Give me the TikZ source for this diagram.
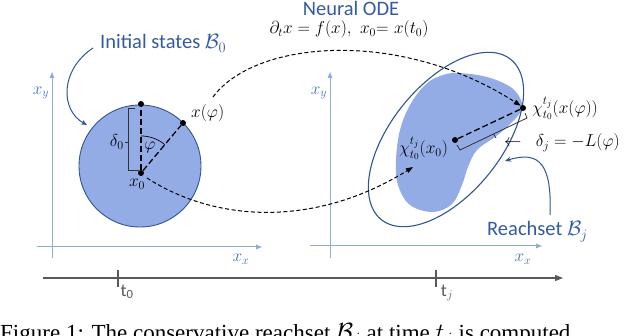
\documentclass[tikz,border=0pt]{standalone}
\usepackage[no-math]{fontspec}
\usepackage{amsmath}
\newfontfamily\calibri{Carlito}
\newfontfamily\timesfont{Liberation Serif}
\usetikzlibrary{arrows.meta,calc}
\definecolor{dblue}{RGB}{47,85,151}
\definecolor{tblue}{RGB}{52,90,165}
\definecolor{fillb}{RGB}{148,172,230}
\definecolor{axisb}{RGB}{143,170,220}
\definecolor{axlab}{RGB}{68,114,196}
\definecolor{tgray}{RGB}{89,89,89}
\begin{document}
\begin{tikzpicture}[x=1pt,y=-1pt,
  axis/.style={draw=axisb, line width=1pt, -{Triangle[length=6pt,width=4.5pt]}},
  axlabel/.style={text=axlab, font=\fontsize{18}{21}\selectfont, inner sep=0pt},
  mathlab/.style={font=\fontsize{18.5}{22}\selectfont, inner sep=0pt},
  bluelab/.style={text=tblue, font=\calibri\fontsize{20.5}{24}\selectfont, inner sep=0pt},
  graylab/.style={text=tgray, font=\calibri\fontsize{18}{21}\selectfont, inner sep=0pt},
  dot/.style={circle, fill=black, inner sep=0pt, minimum size=6pt},
  thickdash/.style={draw=black, line width=1.3pt, dash pattern=on 6pt off 3pt},
  flowdash/.style={draw=black, line width=1pt, dash pattern=on 4pt off 2.5pt, -{Triangle[length=7pt,width=5pt]}},
  bracketline/.style={draw=black!80, line width=0.8pt},
  callout/.style={draw=dblue, line width=1pt, -{Stealth[length=6pt,width=5pt]}},
  timeline/.style={draw=tgray, line width=1.2pt},
]
\useasboundingbox (0,0) rectangle (640,336);
\clip (0,0) rectangle (640,336);

% ---------- axes ----------
\coordinate (lyb) at (52,258);  \coordinate (lyt) at (52,72);
\coordinate (lxl) at (37,247);  \coordinate (lxr) at (262,247);
\coordinate (ryb) at (330,258); \coordinate (ryt) at (330,72);
\coordinate (rxl) at (310,246); \coordinate (rxr) at (542,246);
\draw[axis] (lyb) -- (lyt);
\draw[axis] (lxl) -- (lxr);
\draw[axis] (ryb) -- (ryt);
\draw[axis] (rxl) -- (rxr);
\node[axlabel] (lxy) at (41,93) {$x_y$};
\node[axlabel] (rxy) at (319,93) {$x_y$};
\node[axlabel] (lxx) at (241,259) {$x_x$};
\node[axlabel] (rxx) at (523,259) {$x_x$};

% ---------- time line ----------
\coordinate (tl) at (43,278); \coordinate (tr) at (563,278);
\draw[timeline, -{Triangle[length=8pt,width=6pt]}] (tl) -- (tr);
\coordinate (t0a) at (118,270); \coordinate (t0b) at (118,287);
\coordinate (tja) at (436,270); \coordinate (tjb) at (436,287);
\draw[timeline] (t0a) -- (t0b);
\draw[timeline] (tja) -- (tjb);
\node[graylab] (t0) at (127,292) {t\textsubscript{0}};
\node[graylab] (tj) at (447,293) {t$_j$};

% ---------- initial set ----------
\node[circle, draw=dblue, line width=0.9pt, fill=fillb, minimum size=122pt, inner sep=0pt] (B0) at (140,166) {};
\node[dot] (x0) at (141,173) {};
\node[dot] (top) at (141,104) {};
\node[dot] (xphi) at (183,123) {};
\draw[thickdash] (x0) -- (top);
\draw[thickdash] (x0) -- (xphi);
\draw[line width=0.7pt] plot[domain=50:90, samples=20] ({141+37*cos(\x)},{173-37*sin(\x)});
\node[mathlab] (phi) at (150,147) {$\varphi$};
\coordinate (b0a) at (135,108); \coordinate (b0b) at (128,108);
\coordinate (b0c) at (128,170); \coordinate (b0d) at (139,170);
\coordinate (b0m) at (128,142); \coordinate (b0n) at (124.5,142);
\draw[bracketline] (b0a) -- (b0b) -- (b0c) -- (b0d);
\draw[bracketline] (b0m) -- (b0n);
\node[mathlab, anchor=east] (d0) at (124,142) {$\delta_0$};
\node[mathlab, anchor=base west] (xphil) at (191,118) {$x(\varphi)$};
\node[mathlab] (x0l) at (137,184) {$x_0$};

% ---------- reach set ----------
\fill[fillb] plot[smooth cycle, tension=0.6] coordinates {
 (457,73) (487,77) (512,88) (522,103) (520,113) (507,127) (495,137)
 (477,150) (468,167) (462,185) (452,204) (433,212) (410,205) (398,185)
 (396,160) (400,130) (410,105) (425,85) (440,76)};
\draw[dblue, line width=1.1pt] plot[domain=0:360, samples=120, smooth]
 ({446 + 103*cos(\x)*cos(51) - 55*sin(\x)*sin(51)},
  {139.5 - (103*cos(\x)*sin(51) + 55*sin(\x)*cos(51))});

\node[dot] (cx0) at (455,140) {};
\node[dot] (cxphi) at (523,108) {};
\draw[thickdash] (cx0) -- (cxphi);
\coordinate (bja) at (457,145); \coordinate (bjb) at (460,150);
\coordinate (bjc) at (527,118); \coordinate (bjd) at (525,113);
\coordinate (bjm) at (493.5,134); \coordinate (bjn) at (496,138);
\draw[bracketline] (bja) -- (bjb) -- (bjc) -- (bjd);
\draw[bracketline] (bjm) -- (bjn);
\node[mathlab, anchor=base west] (cxphil) at (532,114) {$\chi_{t_0}^{t_j}(x(\varphi))$};
\node[mathlab, anchor=base west] (cx0l) at (399,154) {$\chi_{t_0}^{t_j}(x_0)$};
\node[mathlab, anchor=base west] (djl) at (504,147) {$\leftarrow\;\;\delta_j = -L(\varphi)$};

% ---------- flow arrows ----------
\coordinate (fa) at (213,97);
\draw[flowdash] (fa) .. controls (255,40) and (400,28) .. (cxphi.north west);
\coordinate (fb) at (147,178);
\coordinate (fbe) at (413,167);
\draw[flowdash] (fb) .. controls (220,225) and (320,225) .. (fbe);

% ---------- labels ----------
\node[bluelab, anchor=base] (ode) at (351,16) {Neural ODE};
\node[mathlab, anchor=base] (eq) at (349,34) {$\partial_t x = f(x),\ x_0{=}\ x(t_0)$};
\node[bluelab, anchor=base west] (init) at (100,49) {Initial states $\mathcal{B}_0$};
\node[bluelab, anchor=base west] (reach) at (487,236) {Reachset $\mathcal{B}_j$};
\coordinate (ia) at (93,48); \coordinate (ib) at (87,125);
\draw[callout] (ia) .. controls (60,70) and (60,110) .. (ib);
\coordinate (ra) at (550,215); \coordinate (rb) at (505,161);
\draw[callout] (ra) .. controls (552,165) and (540,150) .. (rb);

% ---------- caption (cut off by the lower edge) ----------
\node[anchor=base west, inner sep=0pt, font=\timesfont\fontsize{23}{27}\selectfont] (cap) at (0,341)
 {Figure 1: The conservative reachset $\mathcal{B}_j$ at time $t_j$ is computed};
\end{tikzpicture}
\end{document}
